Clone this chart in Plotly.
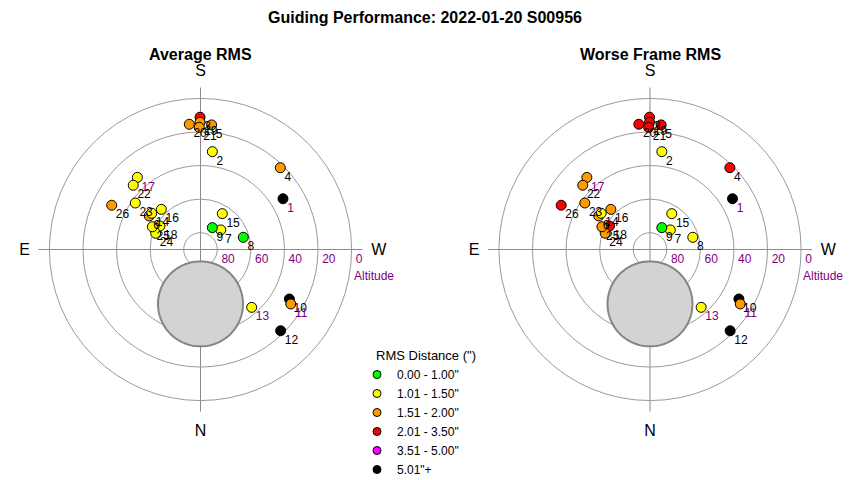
import numpy as np
import plotly.graph_objects as go

# ---------------- data ----------------
point_ids = [1, 2, 3, 4, 5, 6, 7, 8, 9, 10, 11, 12, 13, 14, 15, 16, 17, 18, 19, 20, 21, 22, 23, 24, 25, 26]
altitude_deg = [32.3, 31.3, 11.2, 21.9, 15.5, 53.5, 73.2, 63.5, 75.2, 29.4, 27.2, 22.0, 44.0,
                53.8, 65.0, 56.6, 32.9, 62.1, 14.2, 15.1, 17.2, 34.6, 42.3, 61.6, 58.3, 30.9]
azimuth_deg = [238.4, 186.9, 179.8, 224.3, 185.1, 123.2, 226.0, 254.1, 208.4, 299.1, 301.1, 315.4, 318.5,
               126.6, 211.3, 135.7, 138.8, 120.1, 179.8, 174.9, 179.4, 133.7, 125.5, 109.9, 115.3, 116.5]
# RMS class index per frame (index into rms_bins)
avg_rms_class = [5, 1, 3, 2, 2, 2, 1, 0, 0, 5, 2, 5, 1, 1, 1, 1, 1, 1, 2, 2, 2, 1, 1, 1, 1, 2]
worst_rms_class = [5, 1, 3, 3, 3, 2, 1, 1, 0, 5, 2, 5, 1, 1, 1, 2, 2, 3, 3, 3, 3, 2, 2, 2, 2, 3]

rms_bins = ['0.00 - 1.00"', '1.01 - 1.50"', '1.51 - 2.00"', '2.01 - 3.50"', '3.51 - 5.00"', '5.01"+']
altitude_ticks = [80, 60, 40, 20, 0]
compass_az = [0, 90, 180, 270]
compass_labels = ["N", "E", "S", "W"]

# excluded zone (circle in the projected plane)
zone_center_alt = 57.6
zone_center_az = 0.0
zone_radius_deg = 25.3

# ---------------- style ----------------
bin_colors = ["#00FF00", "#FFFF00", "#FF9900", "#FF0000", "#FF00FF", "#000000"]
purple_labels = {1, 11, 13, 17}
FONT = "Liberation Sans, Arial, sans-serif"
PURPLE = "#800080"
W, H = 850, 480
R_PX = 162.0
R_MAX = 96.5
centers = [(200.5, 249.5), (650.0, 249.5)]
titles = ["Average RMS", "Worse Frame RMS"]

fig = go.Figure()

# zone polygon
t = np.linspace(0, 2 * np.pi, 181)
zc = 90 - zone_center_alt
ca = np.radians(zone_center_az)
n_comp = zc * np.cos(ca) + zone_radius_deg * np.cos(t)
e_comp = zc * np.sin(ca) + zone_radius_deg * np.sin(t)
zone_r = np.hypot(n_comp, e_comp)
zone_theta = np.degrees(np.arctan2(e_comp, n_comp)) % 360

zen = [90 - a for a in altitude_deg]
label_cols = [PURPLE if p in purple_labels else "#000000" for p in point_ids]
CLEAR = "rgba(0,0,0,0)"

for i, classes in enumerate([avg_rms_class, worst_rms_class]):
    sp = "polar" if i == 0 else "polar2"
    fig.add_trace(go.Scatterpolar(
        r=zone_r, theta=zone_theta, mode="lines", fill="toself",
        fillcolor="#D3D3D3", line=dict(color="#858585", width=2),
        subplot=sp, showlegend=False, hoverinfo="skip"))
    fig.add_trace(go.Scatterpolar(
        r=zen, theta=azimuth_deg, mode="markers",
        marker=dict(size=10, color=[bin_colors[c] for c in classes],
                    line=dict(color="#000000", width=1)),
        subplot=sp, showlegend=False, hoverinfo="skip"))
    fig.add_trace(go.Scatterpolar(
        r=zen, theta=azimuth_deg, mode="markers+text",
        text=[str(p) for p in point_ids], textposition="bottom right",
        textfont=dict(family=FONT, size=12, color=label_cols),
        marker=dict(size=5, color=CLEAR),
        subplot=sp, showlegend=False, hoverinfo="skip"))
    fig.add_trace(go.Scatterpolar(
        r=[90 - a for a in altitude_ticks], theta=[270] * len(altitude_ticks),
        mode="markers+text", text=[str(a) for a in altitude_ticks], textposition="bottom right",
        textfont=dict(family=FONT, size=12, color=PURPLE),
        marker=dict(size=5, color=CLEAR),
        subplot=sp, showlegend=False, hoverinfo="skip"))

for name, col in zip(rms_bins, bin_colors):
    fig.add_trace(go.Scatterpolar(
        r=[None], theta=[None], mode="markers", name=name,
        marker=dict(size=8, color=col, line=dict(color="#000000", width=1)),
        subplot="polar", showlegend=True))

def polar_layout(cx, cy):
    return dict(
        domain=dict(x=[(cx - R_PX) / W, (cx + R_PX) / W],
                    y=[1 - (cy + R_PX) / H, 1 - (cy - R_PX) / H]),
        bgcolor="white",
        radialaxis=dict(range=[0, R_MAX], tickmode="array",
                        tickvals=[90 - a for a in altitude_ticks],
                        showticklabels=False, showline=False, ticks="",
                        gridcolor="#9a9a9a", gridwidth=1, angle=0),
        angularaxis=dict(rotation=270, direction="clockwise", tickmode="array",
                         tickvals=compass_az, ticktext=compass_labels,
                         showline=False, ticks="outside", ticklen=5, tickcolor=CLEAR,
                         gridcolor="#8a8a8a", gridwidth=1,
                         tickfont=dict(family=FONT, size=16, color="#000000")),
    )

annotations = [dict(text="<b>Guiding Performance: 2022-01-20 S00956</b>", x=425 / W, y=1 - 18 / H,
                    xref="paper", yref="paper", xanchor="center", yanchor="middle", showarrow=False,
                    font=dict(family=FONT, size=16, color="#000000"))]
for (cx, cy), ttl in zip(centers, titles):
    annotations.append(dict(text=f"<b>{ttl}</b>", x=cx / W, y=1 - 54 / H, xref="paper", yref="paper",
                            xanchor="center", yanchor="middle",
                            showarrow=False, font=dict(family=FONT, size=16, color="#000000")))
    annotations.append(dict(text="Altitude", x=(cx + 151) / W, y=1 - 276 / H, xref="paper", yref="paper",
                            xanchor="left", yanchor="middle", showarrow=False,
                            font=dict(family=FONT, size=12, color=PURPLE)))
annotations.append(dict(text='RMS Distance (")', x=374 / W, y=1 - 355 / H, xref="paper", yref="paper",
                        xanchor="left", yanchor="middle", showarrow=False,
                        font=dict(family=FONT, size=13, color="#000000")))

fig.update_layout(
    width=W, height=H, margin=dict(l=0, r=0, t=0, b=0, autoexpand=False),
    paper_bgcolor="white", font=dict(family=FONT, color="#000000"),
    polar=polar_layout(*centers[0]), polar2=polar_layout(*centers[1]),
    annotations=annotations,
    showlegend=True,
    legend=dict(x=357 / W, y=1 - 360 / H, xanchor="left", yanchor="top",
                bgcolor=CLEAR, font=dict(family=FONT, size=12, color="#000000")),
)

fig.write_html("out.html", config={"displayModeBar": False},
               post_script="document.body.style.margin='0px';")
